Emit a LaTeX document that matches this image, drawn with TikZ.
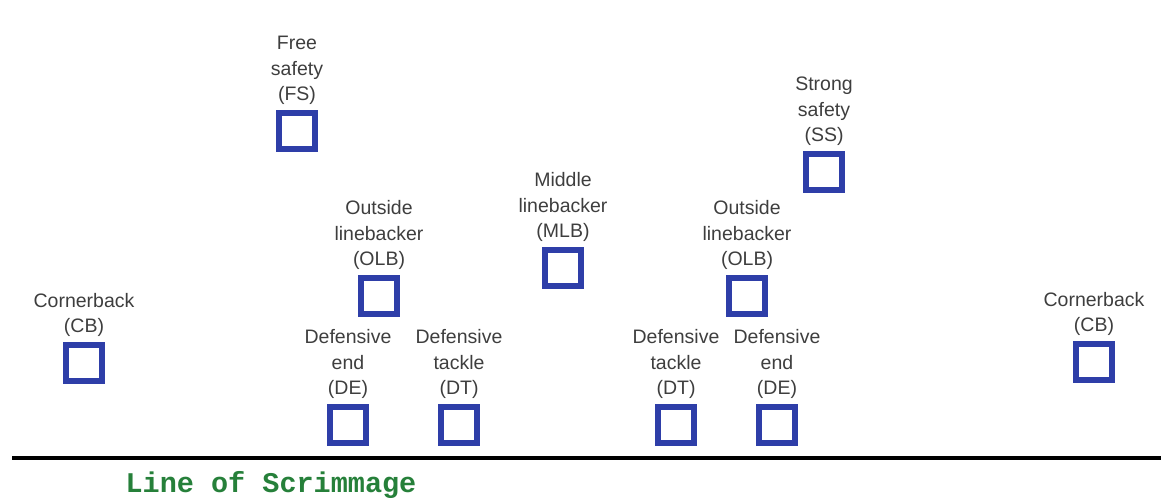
\documentclass[tikz,border=0pt]{standalone}
\usepackage{fontspec}
\setmainfont{Liberation Sans}
\newfontfamily\scrimfont{Liberation Mono}
\usetikzlibrary{positioning}
\definecolor{playerblue}{RGB}{46,62,168}
\definecolor{labelgray}{RGB}{62,62,62}
\definecolor{scrimgreen}{RGB}{38,128,58}
\tikzset{
	player/.style={draw=playerblue, line width=6pt, fill=white, minimum size=36pt, inner sep=0pt},
	plabel/.style={align=center, inner sep=0pt, text=labelgray, font=\fontsize{19.5}{25.5}\selectfont}
}
\begin{document}
\begin{tikzpicture}[x=1pt, y=-1pt]
	\useasboundingbox (0,0) rectangle (1161,499);
	% Spieler
	\node[player] (fs) at (297,131) {};
	\node[player] (ss) at (824,172) {};
	\node[player] (mlb) at (563,268) {};
	\node[player] (olbl) at (379,296) {};
	\node[player] (olbr) at (747,296) {};
	\node[player] (cbl) at (84,363) {};
	\node[player] (cbr) at (1094,362) {};
	\node[player] (del) at (348,425) {};
	\node[player] (dtl) at (459,425) {};
	\node[player] (dtr) at (676,425) {};
	\node[player] (der) at (777,425) {};
	% Beschriftungen
	\node[plabel, above=5pt of fs] (fs-l) {Free\\safety\\(FS)};
	\node[plabel, above=5pt of ss] (ss-l) {Strong\\safety\\(SS)};
	\node[plabel, above=5pt of mlb] (mlb-l) {Middle\\linebacker\\(MLB)};
	\node[plabel, above=5pt of olbl] (olbl-l) {Outside\\linebacker\\(OLB)};
	\node[plabel, above=5pt of olbr] (olbr-l) {Outside\\linebacker\\(OLB)};
	\node[plabel, above=5pt of cbl] (cbl-l) {Cornerback\\(CB)};
	\node[plabel, above=5pt of cbr] (cbr-l) {Cornerback\\(CB)};
	\node[plabel, above=5pt of del] (del-l) {Defensive\\end\\(DE)};
	\node[plabel, above=5pt of dtl] (dtl-l) {Defensive\\tackle\\(DT)};
	\node[plabel, above=5pt of dtr] (dtr-l) {Defensive\\tackle\\(DT)};
	\node[plabel, above=5pt of der] (der-l) {Defensive\\end\\(DE)};
	% Line of Scrimmage
	\coordinate (los-w) at (12,458);
	\coordinate (los-e) at (1161,458);
	\draw[line width=4pt] (los-w) -- (los-e);
	\node[text=scrimgreen, font=\scrimfont\bfseries\fontsize{28.5}{28.5}\selectfont, inner sep=0pt] (los) at (271,485) {Line of Scrimmage};
\end{tikzpicture}
\end{document}
